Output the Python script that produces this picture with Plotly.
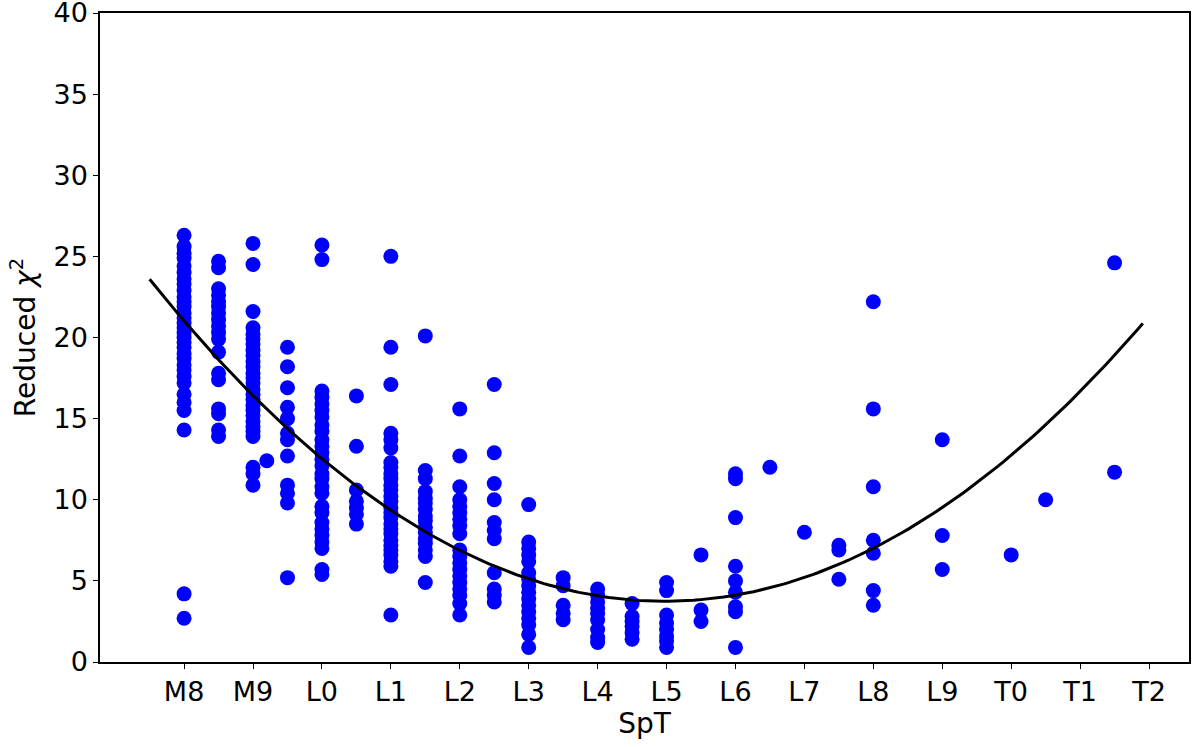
import numpy as np
import plotly.graph_objects as go

# spectral type labels on the x axis (M0 = 0, L0 = 10, T0 = 20)
tick_labels = ['M8', 'M9', 'L0', 'L1', 'L2', 'L3', 'L4', 'L5', 'L6', 'L7',
               'L8', 'L9', 'T0', 'T1', 'T2']
tick_positions = list(range(8, 23))

# reduced chi^2 values per spectral type column
chi2_M8 = [26.3, 25.6, 25.2, 24.9, 24.4, 24.0, 23.6, 23.3, 22.9, 22.5, 22.2,
           21.9, 21.5, 21.2, 20.9, 20.6, 20.3, 20.0, 19.7, 19.4, 19.0, 18.7,
           18.3, 18.0, 17.6, 17.2, 16.5, 16.0, 15.5, 14.3, 4.2, 2.7]
chi2_M8_5 = [24.7, 24.3, 23.0, 22.6, 22.2, 21.9, 21.5, 21.1, 20.7, 20.3, 19.9,
             19.1, 17.8, 17.4, 15.6, 15.3, 14.3, 13.9]
chi2_M9 = [25.8, 24.5, 21.6, 20.6, 20.2, 19.9, 19.6, 19.2, 18.9, 18.5, 18.2,
           17.8, 17.5, 17.2, 16.8, 16.5, 16.2, 15.8, 15.5, 15.2, 14.8, 14.5,
           14.2, 13.9, 12.0, 11.6, 10.9]
chi2_M9_2 = [12.4]
chi2_M9_5 = [19.4, 18.2, 16.9, 15.7, 15.0, 14.1, 13.7, 12.7, 10.9, 10.4, 9.8, 5.2]
chi2_L0 = [25.7, 24.8, 16.7, 16.3, 15.9, 15.5, 15.1, 14.6, 14.2, 13.7, 13.3,
           12.9, 12.5, 12.1, 11.6, 11.3, 10.8, 10.4, 9.6, 9.2, 8.6, 8.2, 7.8,
           7.4, 7.0, 5.7, 5.4]
chi2_L0_5 = [16.4, 13.3, 10.6, 9.9, 9.5, 9.1, 8.5]
chi2_L1 = [25.0, 19.4, 17.1, 14.1, 13.7, 13.2, 12.3, 12.0, 11.6, 11.3, 10.9,
           10.6, 10.2, 9.9, 9.5, 9.2, 8.9, 8.5, 8.2, 7.9, 7.5, 7.2, 6.9, 6.6,
           6.2, 5.9, 2.9]
chi2_L1_5 = [20.1, 11.8, 11.3, 10.5, 10.1, 9.8, 9.4, 9.0, 8.7, 8.3, 8.0, 7.6,
             7.3, 6.9, 6.5, 4.9]
chi2_L2 = [15.6, 12.7, 10.8, 10.0, 9.6, 9.2, 8.8, 8.4, 7.9, 6.9, 6.5, 6.1,
           5.7, 5.3, 4.9, 4.5, 4.1, 3.6, 2.9]
chi2_L2_5 = [17.1, 12.9, 11.0, 10.0, 8.6, 8.1, 7.6, 5.5, 4.5, 4.1, 3.7]
chi2_L3 = [9.7, 7.4, 7.0, 6.6, 6.2, 5.5, 5.1, 4.7, 4.3, 3.9, 3.5, 3.1, 2.7,
           2.3, 1.7, 0.9]
chi2_L3_5 = [5.2, 4.7, 3.5, 3.0, 2.6]
chi2_L4 = [4.5, 4.1, 3.7, 3.3, 3.0, 2.6, 2.0, 1.5, 1.2]
chi2_L4_5 = [3.6, 2.8, 2.5, 2.2, 1.8, 1.4]
chi2_L5 = [4.9, 4.4, 2.9, 2.4, 2.0, 1.6, 1.3, 0.9]
chi2_L5_5 = [6.6, 3.2, 2.5]
chi2_L6 = [11.6, 11.3, 8.9, 5.9, 5.0, 4.3, 3.4, 3.1, 0.9]
chi2_L6_5 = [12.0]
chi2_L7 = [8.0]
chi2_L7_5 = [7.2, 6.9, 5.1]
chi2_L8 = [22.2, 15.6, 10.8, 7.5, 6.7, 4.4, 3.5]
chi2_L9 = [13.7, 7.8, 5.7]
chi2_T0 = [6.6]
chi2_T0_5 = [10.0]
chi2_T1_5 = [24.6, 11.7]

columns = [
    (8.0, chi2_M8), (8.5, chi2_M8_5), (9.0, chi2_M9), (9.2, chi2_M9_2),
    (9.5, chi2_M9_5), (10.0, chi2_L0), (10.5, chi2_L0_5), (11.0, chi2_L1),
    (11.5, chi2_L1_5), (12.0, chi2_L2), (12.5, chi2_L2_5), (13.0, chi2_L3),
    (13.5, chi2_L3_5), (14.0, chi2_L4), (14.5, chi2_L4_5), (15.0, chi2_L5),
    (15.5, chi2_L5_5), (16.0, chi2_L6), (16.5, chi2_L6_5), (17.0, chi2_L7),
    (17.5, chi2_L7_5), (18.0, chi2_L8), (19.0, chi2_L9), (20.0, chi2_T0),
    (20.5, chi2_T0_5), (21.5, chi2_T1_5),
]

# second order polynomial fit (chi2 vs SpT) and the range it is drawn over
fit_coeffs = [0.3557, -10.65, 83.46]
fit_range = [7.5, 21.91]

spt = []
chi2 = []
for x, vals in columns:
    spt += [x] * len(vals)
    chi2 += vals

fit_x = np.linspace(fit_range[0], fit_range[1], 200)
fit_y = np.polyval(fit_coeffs, fit_x)

fig = go.Figure()

fig.add_trace(go.Scatter(
    x=spt, y=chi2,
    mode='markers',
    marker=dict(color='#0000ff', size=15, line=dict(width=0)),
    showlegend=False,
))

fig.add_trace(go.Scatter(
    x=fit_x, y=fit_y,
    mode='lines',
    line=dict(color='black', width=3),
    showlegend=False,
))

axis_style = dict(
    showline=True, mirror=True, linecolor='black', linewidth=1.5,
    showgrid=False, zeroline=False, automargin=False,
    ticks='outside', ticklen=5, tickwidth=1.3, tickcolor='black',
    tickfont=dict(size=27, color='black'),
    ticklabeloverflow='allow',
)

fig.update_layout(
    width=1200, height=747,
    paper_bgcolor='white', plot_bgcolor='white',
    font=dict(family='DejaVu Sans', size=27, color='black'),
    margin=dict(l=100, r=11, t=13, b=85),
    xaxis=dict(
        range=[6.78, 22.58],
        tickvals=tick_positions, ticktext=tick_labels,
        title=dict(text='SpT', font=dict(size=28), standoff=4),
        **axis_style
    ),
    yaxis=dict(
        range=[0, 40], tickvals=list(range(0, 41, 5)),
        title=dict(text='Reduced <i>χ</i><sup>2</sup>', font=dict(size=28), standoff=10),
        **axis_style
    ),
)

# drop the default body margin so the figure fills the window
fig.write_html("out.html", config={'displayModeBar': False},
               post_script="document.body.style.margin = '0';")
